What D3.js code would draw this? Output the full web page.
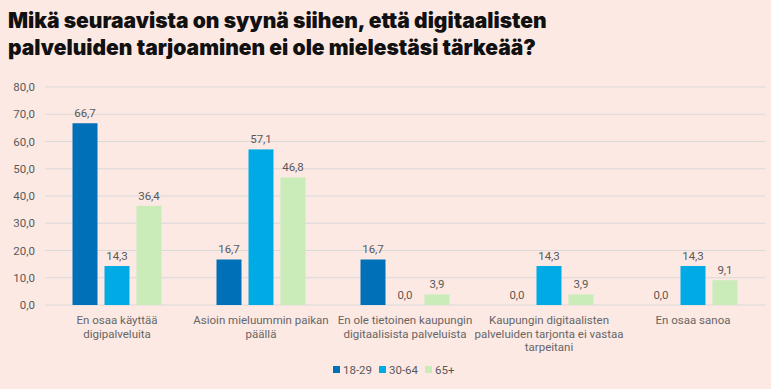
<!DOCTYPE html>
<html>
<head>
<meta charset="utf-8">
<script src="https://cdn.jsdelivr.net/npm/d3@7"></script>
<style>
  body { margin: 0; background: #fde9e4; }
  svg { display: block; }
</style>
</head>
<body>
<svg id="chart" width="771" height="389"></svg>
<script>
var categories = [
    ["En osaa käyttää", "digipalveluita"],
    ["Asioin mieluummin paikan", "päällä"],
    ["En ole tietoinen kaupungin", "digitaalisista palveluista"],
    ["Kaupungin digitaalisten", "palveluiden tarjonta ei vastaa", "tarpeitani"],
    ["En osaa sanoa"]
];
var seriesNames = ["18-29", "30-64", "65+"];
var s1829 = [66.7, 16.7, 16.7, 0.0, 0.0];
var s3064 = [14.3, 57.1, 0.0, 14.3, 14.3];
var s65 = [36.4, 46.8, 3.9, 3.9, 9.1];
var yTicks = [0, 10, 20, 30, 40, 50, 60, 70, 80];
var colors = ["#0070b8", "#00aae4", "#c9ecb9"];

var svg = d3.select("#chart");
var fmt = function(v) { return v.toFixed(1).replace(".", ","); };

// title
var title = svg.append("text")
    .style("font-family", "Inter")
    .style("font-weight", "900")
    .style("font-size", "21px")
    .style("fill", "#111");
title.append("tspan").attr("x", 8).attr("y", 28).text("Mikä seuraavista on syynä siihen, että digitaalisten");
title.append("tspan").attr("x", 8).attr("y", 55).text("palveluiden tarjoaminen ei ole mielestäsi tärkeää?");

var x = d3.scaleBand().domain(d3.range(categories.length)).range([45, 765]);
var y = d3.scaleLinear().domain([0, 80]).range([305, 87]);

// grid
svg.selectAll("line.grid").data(yTicks).enter().append("line")
    .attr("x1", 45).attr("x2", 765)
    .attr("y1", function(d) { return y(d); })
    .attr("y2", function(d) { return y(d); })
    .attr("stroke", "#d9d9d9")
    .attr("stroke-width", 1);

svg.selectAll("text.ytick").data(yTicks).enter().append("text")
    .attr("x", 35)
    .attr("y", function(d) { return y(d) + 4; })
    .attr("text-anchor", "end")
    .style("font-family", "Roboto")
    .style("font-size", "11.5px")
    .style("fill", "#595959")
    .text(function(d) { return fmt(d); });

var allSeries = [s1829, s3064, s65];
var barW = 25, step = 32;

allSeries.forEach(function(vals, si) {
    var g = svg.append("g");
    vals.forEach(function(v, ci) {
        var cx = x(ci) + x.bandwidth() / 2 + (si - 1) * step;
        g.append("rect")
            .attr("x", cx - barW / 2)
            .attr("y", y(v))
            .attr("width", barW)
            .attr("height", y(0) - y(v))
            .attr("fill", colors[si]);
        g.append("text")
            .attr("x", cx)
            .attr("y", y(v) - 6)
            .attr("text-anchor", "middle")
            .style("font-family", "Roboto")
            .style("font-size", "11.5px")
            .style("fill", "#595959")
            .text(fmt(v));
    });
});

// category labels
categories.forEach(function(lines, ci) {
    var t = svg.append("text")
        .attr("text-anchor", "middle")
        .style("font-family", "Roboto")
        .style("font-size", "11.5px")
        .style("fill", "#666");
    lines.forEach(function(l, li) {
        t.append("tspan")
            .attr("x", x(ci) + x.bandwidth() / 2)
            .attr("y", 324 + li * 13.5)
            .text(l);
    });
});

// legend
var legX = [333, 379, 425];
seriesNames.forEach(function(n, i) {
    svg.append("rect")
        .attr("x", legX[i]).attr("y", 366)
        .attr("width", 7).attr("height", 7)
        .attr("fill", colors[i]);
    svg.append("text")
        .attr("x", legX[i] + 10).attr("y", 373.5)
        .style("font-family", "Roboto")
        .style("font-size", "11.5px")
        .style("fill", "#595959")
        .text(n);
});
</script>
</body>
</html>
